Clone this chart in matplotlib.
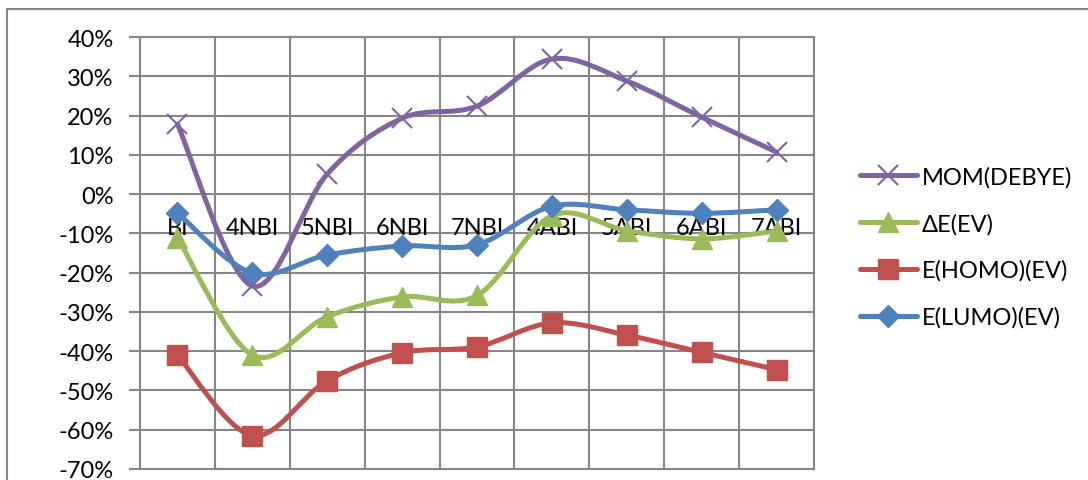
import matplotlib
matplotlib.use("Agg")
import matplotlib.pyplot as plt
import numpy as np
from matplotlib.path import Path
from matplotlib.patches import PathPatch
from matplotlib.lines import Line2D
from matplotlib.ticker import FuncFormatter

plt.rcParams['font.family'] = ['Lato', 'DejaVu Sans']
plt.rcParams['axes.unicode_minus'] = False

categories = ["BI", "4NBI", "5NBI", "6NBI", "7NBI", "4ABI", "5ABI", "6ABI", "7ABI"]
mom_debye = [0.178, -0.234, 0.051, 0.193, 0.224, 0.344, 0.288, 0.196, 0.107]
delta_e = [-0.111, -0.410, -0.312, -0.262, -0.258, -0.055, -0.093, -0.114, -0.094]
e_homo = [-0.410, -0.615, -0.475, -0.404, -0.389, -0.328, -0.359, -0.403, -0.447]
e_lumo = [-0.048, -0.201, -0.155, -0.132, -0.129, -0.031, -0.040, -0.049, -0.040]

series = [
    ("MOM(DEBYE)", mom_debye, "#8064A2", "x"),
    ("ΔE(EV)", delta_e, "#9BBB59", "^"),
    ("E(HOMO)(EV)", e_homo, "#C0504D", "s"),
    ("E(LUMO)(EV)", e_lumo, "#4F81BD", "D"),
]

GRID = "#868686"
FS = 17
LW = 3.6


def smooth_path(xs, ys):
    """Cubic Bezier through all points with Catmull-Rom style tangents."""
    pts = np.column_stack([xs, ys]).astype(float)
    n = len(pts)
    verts = [pts[0]]
    codes = [Path.MOVETO]
    for i in range(n - 1):
        p0 = pts[i - 1] if i > 0 else pts[i]
        p1 = pts[i]
        p2 = pts[i + 1]
        p3 = pts[i + 2] if i + 2 < n else pts[i + 1]
        c1 = p1 + (p2 - p0) / 6.0
        c2 = p2 - (p3 - p1) / 6.0
        verts += [c1, c2, p2]
        codes += [Path.CURVE4] * 3
    return Path(verts, codes)


fig = plt.figure(figsize=(10.88, 4.81), dpi=100)
ax = fig.add_axes([140 / 1088, 1 - 470 / 481, (814 - 140) / 1088, (470 - 38) / 481])

x = np.arange(len(categories))
handles = []
for name, vals, color, marker in series:
    patch = PathPatch(smooth_path(x, vals), facecolor="none", edgecolor=color,
                      linewidth=LW, capstyle="round", joinstyle="round", zorder=3)
    ax.add_patch(patch)
    if marker == "x":
        ax.plot(x, vals, linestyle="none", marker="x", markersize=15,
                markeredgewidth=1.5, color=color, zorder=4)
        h = Line2D([], [], color=color, linewidth=LW, marker="x", markersize=15,
                   markeredgewidth=1.5, solid_capstyle="round")
    else:
        ms = {"^": 14, "s": 14, "D": 11}[marker]
        ax.plot(x, vals, linestyle="none", marker=marker, markersize=ms,
                color=color, markeredgecolor=color, zorder=4)
        h = Line2D([], [], color=color, linewidth=LW, marker=marker, markersize=ms,
                   markeredgecolor=color, solid_capstyle="round")
    handles.append((h, name))

ax.set_xlim(-0.5, len(categories) - 0.5)
ax.set_ylim(-0.7, 0.4)

# value axis
ax.set_yticks(np.arange(-0.7, 0.41, 0.1))
ax.yaxis.set_major_formatter(FuncFormatter(lambda v, _: f"{round(v * 100):d}%"))
ax.tick_params(axis="y", length=8, width=1.5, color=GRID, pad=11, labelsize=FS)
ax.grid(axis="y", color=GRID, linewidth=1.5)

# category axis crossing at zero, gridlines between categories
ax.set_xticks(np.arange(-0.5, len(categories), 1.0))
ax.tick_params(axis="x", length=0, labelbottom=False)
ax.grid(axis="x", color=GRID, linewidth=1.5)
for i, cat in enumerate(categories):
    ax.annotate(cat, xy=(i, 0), xytext=(0, -29), textcoords="offset points",
                ha="center", va="baseline", fontsize=FS, color="black",
                zorder=2.7, annotation_clip=False)
for s in ax.spines.values():
    s.set_color(GRID)
    s.set_linewidth(1.5)
ax.set_axisbelow(True)

fig.legend([h for h, _ in handles], [n for _, n in handles],
           loc="upper left", bbox_to_anchor=(860 / 1088, 1 - 167 / 481),
           frameon=False, fontsize=FS, handlelength=2.4, handletextpad=0.2,
           labelspacing=1.07, numpoints=1, borderaxespad=0, borderpad=0)

# chart area frame
fig.add_artist(Line2D([7 / 1088, 1.0], [1 - 10 / 481, 1 - 10 / 481],
                      transform=fig.transFigure, color=GRID, linewidth=1.5))
fig.add_artist(Line2D([7 / 1088, 7 / 1088], [0.0, 1 - 10 / 481],
                      transform=fig.transFigure, color=GRID, linewidth=1.5))

fig.savefig("out.png", dpi=100, facecolor="white")
